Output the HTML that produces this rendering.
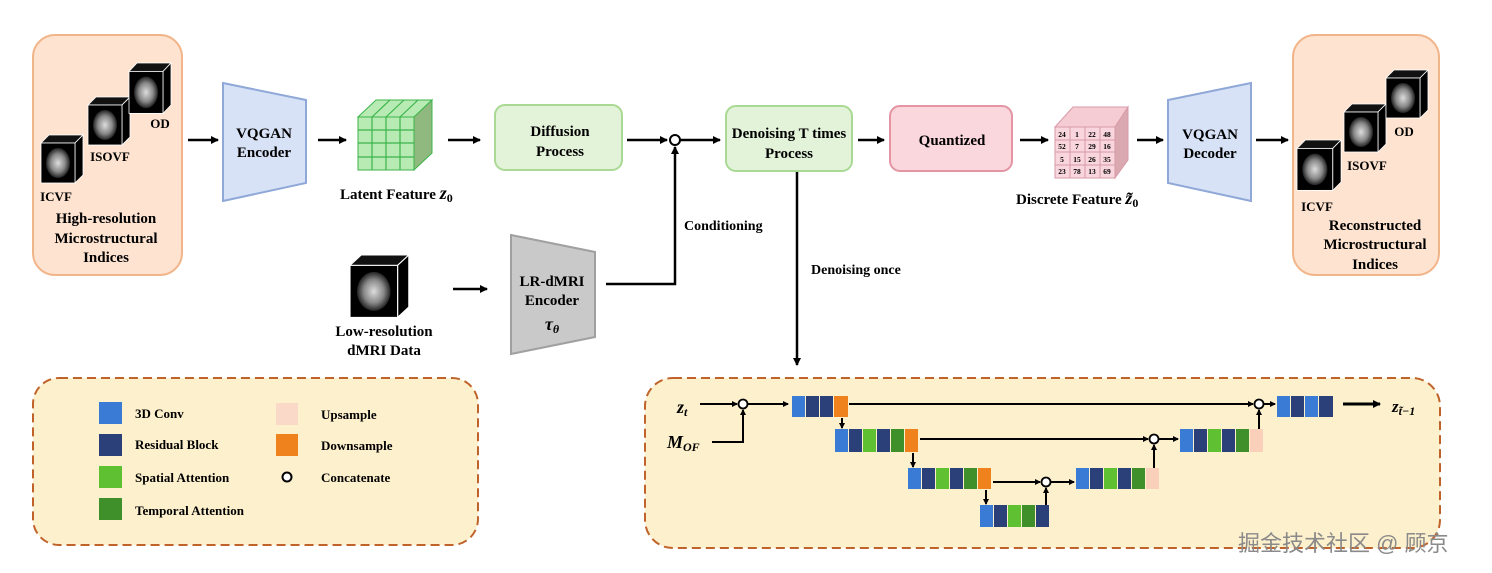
<!DOCTYPE html>
<html><head><meta charset="utf-8"><style>
html,body{margin:0;padding:0;background:#fff;}
svg{display:block;font-family:"Liberation Serif",serif;font-weight:bold;}
</style></head><body>
<svg width="1492" height="573" viewBox="0 0 1492 573" xmlns="http://www.w3.org/2000/svg">
<defs>
<marker id="ah" markerWidth="8" markerHeight="8" refX="7" refY="4" orient="auto" markerUnits="userSpaceOnUse"><path d="M0,0 L8,4 L0,8 z" fill="#000"/></marker>
<marker id="as" markerWidth="6" markerHeight="6" refX="5" refY="3" orient="auto" markerUnits="userSpaceOnUse"><path d="M0,0 L6,3 L0,6 z" fill="#000"/></marker>
<radialGradient id="br"><stop offset="0" stop-color="#ddd"/><stop offset="0.6" stop-color="#888"/><stop offset="1" stop-color="#222"/></radialGradient>
<g id="cube">
<path d="M0,8 L8,0 L42,0 L34,8 z" fill="#111" stroke="#fff" stroke-width="0.8"/>
<path d="M34,8 L42,0 L42,40 L34,48 z" fill="#000" stroke="#fff" stroke-width="0.8"/>
<rect x="0" y="8" width="34" height="40" fill="#000" stroke="#fff" stroke-width="0.8"/>
<ellipse cx="17" cy="28" rx="12" ry="15" fill="url(#br)"/>
</g>
</defs>

<!-- left box -->
<rect x="33" y="35" width="149" height="240" rx="22" fill="#fde3d0" stroke="#f2b58a" stroke-width="2"/>
<use href="#cube" transform="translate(41,135)"/>
<use href="#cube" transform="translate(88,97)"/>
<use href="#cube" transform="translate(129,63) scale(1,1.05)"/>
<g font-size="13" text-anchor="middle">
<text x="56" y="201">ICVF</text><text x="110" y="161">ISOVF</text><text x="160" y="128">OD</text>
</g>
<g font-size="15" text-anchor="middle">
<text x="106" y="223">High-resolution</text><text x="106" y="243">Microstructural</text><text x="106" y="262">Indices</text>
</g>

<g stroke="#000" stroke-width="2.5" fill="none" marker-end="url(#ah)">
<line x1="188" y1="140" x2="218" y2="140"/>
<line x1="318" y1="140" x2="346" y2="140"/>
<line x1="448" y1="140" x2="480" y2="140"/>
<line x1="627" y1="140" x2="667" y2="140"/>
<line x1="680" y1="140" x2="720" y2="140"/>
<line x1="858" y1="140" x2="884" y2="140"/>
<line x1="1020" y1="140" x2="1048" y2="140"/>
<line x1="1137" y1="140" x2="1163" y2="140"/>
<line x1="1256" y1="140" x2="1288" y2="140"/>
<line x1="453" y1="289" x2="487" y2="289"/>
<polyline points="606,284 675,284 675,147"/>
<line x1="797" y1="172" x2="797" y2="365"/>
</g>
<circle cx="675" cy="140" r="5" fill="#fff" stroke="#000" stroke-width="2"/>

<!-- encoder -->
<polygon points="223,83 306,100 306,183 223,201" fill="#d8e2f6" stroke="#8fa8d8" stroke-width="2"/>
<g font-size="15" text-anchor="middle"><text x="264" y="138">VQGAN</text><text x="264" y="157">Encoder</text></g>

<!-- latent cube -->
<polygon points="358,117 376,100 432,100 414,117" fill="#b8eab4" stroke="#3bb54a"/>
<polygon points="414,117 432,100 432,153 414,170" fill="#8fb97f" stroke="#3bb54a"/>
<rect x="358" y="117" width="56" height="53" fill="#b8eab4" stroke="#3bb54a"/>
<g stroke="#3bb54a" stroke-width="1.2">
<line x1="372" y1="117" x2="372" y2="170"/><line x1="386" y1="117" x2="386" y2="170"/><line x1="400" y1="117" x2="400" y2="170"/>
<line x1="358" y1="130" x2="414" y2="130"/><line x1="358" y1="143" x2="414" y2="143"/><line x1="358" y1="157" x2="414" y2="157"/>
<line x1="372" y1="117" x2="390" y2="100"/><line x1="386" y1="117" x2="404" y2="100"/><line x1="400" y1="117" x2="418" y2="100"/>
</g>
<text x="340" y="199" font-size="15">Latent Feature <tspan font-style="italic" font-size="18">z</tspan><tspan font-size="12" dy="3">0</tspan></text>

<rect x="495" y="105" width="127" height="65" rx="10" fill="#e3f3da" stroke="#a9d993" stroke-width="2"/>
<g font-size="15" text-anchor="middle"><text x="560" y="136">Diffusion</text><text x="560" y="156">Process</text></g>
<rect x="726" y="106" width="126" height="65" rx="10" fill="#e3f3da" stroke="#a9d993" stroke-width="2"/>
<g font-size="15" text-anchor="middle"><text x="789" y="138">Denoising T times</text><text x="789" y="158">Process</text></g>
<rect x="890" y="106" width="122" height="65" rx="10" fill="#f9d7dc" stroke="#e494a3" stroke-width="2"/>
<text x="952" y="145" font-size="15" text-anchor="middle">Quantized</text>

<!-- discrete cube -->
<polygon points="1055,127 1073,107 1128,107 1115,127" fill="#f6ccd4" stroke="#d89aa8"/>
<polygon points="1115,127 1128,107 1128,160 1115,178" fill="#d9a8b0" stroke="#d89aa8"/>
<rect x="1055" y="127" width="60" height="51" fill="#f9d6dd" stroke="#d89aa8"/>
<g stroke="#d89aa8"><line x1="1070" y1="127" x2="1070" y2="178"/><line x1="1085" y1="127" x2="1085" y2="178"/><line x1="1100" y1="127" x2="1100" y2="178"/>
<line x1="1055" y1="140" x2="1115" y2="140"/><line x1="1055" y1="152" x2="1115" y2="152"/><line x1="1055" y1="165" x2="1115" y2="165"/></g>
<g font-size="7.5" text-anchor="middle">
<text x="1062" y="137">24</text><text x="1077" y="137">1</text><text x="1092" y="137">22</text><text x="1107" y="137">48</text>
<text x="1062" y="149">52</text><text x="1077" y="149">7</text><text x="1092" y="149">29</text><text x="1107" y="149">16</text>
<text x="1062" y="162">5</text><text x="1077" y="162">15</text><text x="1092" y="162">26</text><text x="1107" y="162">35</text>
<text x="1062" y="174">23</text><text x="1077" y="174">78</text><text x="1092" y="174">13</text><text x="1107" y="174">69</text>
</g>
<text x="1016" y="204" font-size="15">Discrete Feature <tspan font-style="italic" font-size="18">z̃</tspan><tspan font-size="12" dy="3">0</tspan></text>

<polygon points="1168,100 1251,83 1251,201 1168,183" fill="#d8e2f6" stroke="#8fa8d8" stroke-width="2"/>
<g font-size="15" text-anchor="middle"><text x="1210" y="139">VQGAN</text><text x="1210" y="158">Decoder</text></g>

<!-- right box -->
<rect x="1293" y="35" width="146" height="240" rx="22" fill="#fde3d0" stroke="#f2b58a" stroke-width="2"/>
<use href="#cube" transform="translate(1297,140) scale(1.05,1.05)"/>
<use href="#cube" transform="translate(1344,104)"/>
<use href="#cube" transform="translate(1386,70)"/>
<g font-size="13" text-anchor="middle"><text x="1317" y="211">ICVF</text><text x="1367" y="170">ISOVF</text><text x="1404" y="136">OD</text></g>
<g font-size="15" text-anchor="middle"><text x="1375" y="230">Reconstructed</text><text x="1375" y="249">Microstructural</text><text x="1375" y="269">Indices</text></g>

<!-- LR encoder -->
<use href="#cube" transform="translate(350,255) scale(1.4,1.3)"/>
<g font-size="15" text-anchor="middle"><text x="384" y="336">Low-resolution</text><text x="384" y="355">dMRI Data</text></g>
<polygon points="511,235 595,252 595,337 511,354" fill="#c9c9c9" stroke="#a0a0a0" stroke-width="2"/>
<g font-size="15" text-anchor="middle"><text x="552" y="286">LR-dMRI</text><text x="552" y="305">Encoder</text>
<text x="552" y="330" font-style="italic" font-size="18">τ<tspan font-size="12" dy="3">θ</tspan></text></g>
<text x="684" y="230" font-size="14">Conditioning</text>
<text x="811" y="274" font-size="14">Denoising once</text>

<!-- legend -->
<rect x="33" y="378" width="445" height="167" rx="26" fill="#fdf0cc" stroke="#c0632a" stroke-width="2" stroke-dasharray="9,5"/>
<rect x="99" y="402" width="23" height="22" fill="#3a7bd5"/>
<rect x="99" y="434" width="23" height="22" fill="#2b3f78"/>
<rect x="99" y="466" width="23" height="22" fill="#5fc132"/>
<rect x="99" y="498" width="23" height="22" fill="#3f8f2a"/>
<rect x="276" y="403" width="22" height="22" fill="#fbd9c8"/>
<rect x="276" y="434" width="22" height="22" fill="#f0821e"/>
<circle cx="287" cy="477" r="4.5" fill="#fff" stroke="#000" stroke-width="2"/>
<g font-size="13"><text x="135" y="418">3D Conv</text><text x="135" y="449">Residual Block</text><text x="135" y="482">Spatial Attention</text><text x="135" y="515">Temporal Attention</text>
<text x="321" y="419">Upsample</text><text x="321" y="450">Downsample</text><text x="321" y="482">Concatenate</text></g>

<!-- unet box -->
<rect x="645" y="378" width="795" height="170" rx="28" fill="#fdf0cc" stroke="#c0632a" stroke-width="2" stroke-dasharray="9,5"/>
<g>
<!-- row1 left -->
<rect x="792" y="396" width="13" height="21" fill="#3a7bd5"/><rect x="806" y="396" width="13" height="21" fill="#2b3f78"/><rect x="820" y="396" width="13" height="21" fill="#2b3f78"/><rect x="834" y="396" width="14" height="21" fill="#f0821e"/>
<!-- row1 right -->
<rect x="1277" y="396" width="13" height="21" fill="#3a7bd5"/><rect x="1291" y="396" width="13" height="21" fill="#2b3f78"/><rect x="1305" y="396" width="13" height="21" fill="#3a7bd5"/><rect x="1319" y="396" width="14" height="21" fill="#2b3f78"/>
<!-- row2 left -->
<rect x="835" y="429" width="13" height="23" fill="#3a7bd5"/><rect x="849" y="429" width="13" height="23" fill="#2b3f78"/><rect x="863" y="429" width="13" height="23" fill="#5fc132"/><rect x="877" y="429" width="13" height="23" fill="#2b3f78"/><rect x="891" y="429" width="13" height="23" fill="#3f8f2a"/><rect x="905" y="429" width="13" height="23" fill="#f0821e"/>
<!-- row2 right -->
<rect x="1180" y="429" width="13" height="23" fill="#3a7bd5"/><rect x="1194" y="429" width="13" height="23" fill="#2b3f78"/><rect x="1208" y="429" width="13" height="23" fill="#5fc132"/><rect x="1222" y="429" width="13" height="23" fill="#2b3f78"/><rect x="1236" y="429" width="13" height="23" fill="#3f8f2a"/><rect x="1250" y="429" width="13" height="23" fill="#fbd0bb"/>
<!-- row3 left -->
<rect x="908" y="468" width="13" height="21" fill="#3a7bd5"/><rect x="922" y="468" width="13" height="21" fill="#2b3f78"/><rect x="936" y="468" width="13" height="21" fill="#5fc132"/><rect x="950" y="468" width="13" height="21" fill="#2b3f78"/><rect x="964" y="468" width="13" height="21" fill="#3f8f2a"/><rect x="978" y="468" width="13" height="21" fill="#f0821e"/>
<!-- row3 right -->
<rect x="1076" y="468" width="13" height="21" fill="#3a7bd5"/><rect x="1090" y="468" width="13" height="21" fill="#2b3f78"/><rect x="1104" y="468" width="13" height="21" fill="#5fc132"/><rect x="1118" y="468" width="13" height="21" fill="#2b3f78"/><rect x="1132" y="468" width="13" height="21" fill="#3f8f2a"/><rect x="1146" y="468" width="13" height="21" fill="#fbd0bb"/>
<!-- row4 -->
<rect x="980" y="505" width="13" height="22" fill="#3a7bd5"/><rect x="994" y="505" width="13" height="22" fill="#2b3f78"/><rect x="1008" y="505" width="13" height="22" fill="#5fc132"/><rect x="1022" y="505" width="13" height="22" fill="#3f8f2a"/><rect x="1036" y="505" width="13" height="22" fill="#2b3f78"/>
</g>
<g stroke="#000" stroke-width="2" fill="none" marker-end="url(#as)">
<line x1="700" y1="404" x2="737" y2="404"/>
<line x1="748" y1="404" x2="788" y2="404"/>
<polyline points="712,442 743,442 743,410"/>
<line x1="849" y1="404" x2="1253" y2="404"/>
<line x1="1264" y1="404" x2="1275" y2="404"/>
<line x1="1259" y1="429" x2="1259" y2="410"/>
<line x1="920" y1="439" x2="1148" y2="439"/>
<line x1="1159" y1="439" x2="1178" y2="439"/>
<line x1="1154" y1="468" x2="1154" y2="445"/>
<line x1="993" y1="482" x2="1040" y2="482"/>
<line x1="1051" y1="482" x2="1074" y2="482"/>
<line x1="1046" y1="505" x2="1046" y2="488"/>
<line x1="842" y1="418" x2="842" y2="428"/>
<line x1="913" y1="453" x2="913" y2="467"/>
<line x1="986" y1="490" x2="986" y2="504"/>
</g>
<line x1="1343" y1="404" x2="1380" y2="404" stroke="#000" stroke-width="3" marker-end="url(#ah)"/>
<g fill="#fff" stroke="#000" stroke-width="1.8">
<circle cx="743" cy="404" r="4.5"/><circle cx="1259" cy="404" r="4.5"/><circle cx="1154" cy="439" r="4.5"/><circle cx="1046" cy="482" r="4.5"/>
</g>
<text x="677" y="413" font-size="18" font-style="italic">z<tspan font-size="12" dy="3">t</tspan></text>
<text x="667" y="448" font-size="18" font-style="italic">M<tspan font-size="12" dy="3">OF</tspan></text>
<text x="1392" y="412" font-size="17" font-style="italic">z<tspan font-size="12" dy="3">t̃−1</tspan></text>

<text x="1238" y="551" font-size="22" font-weight="normal" fill="#8a8a8a" font-family="'Liberation Sans','Noto Sans CJK SC',sans-serif">掘金技术社区 @ 顾京</text>
</svg>
</body></html>
